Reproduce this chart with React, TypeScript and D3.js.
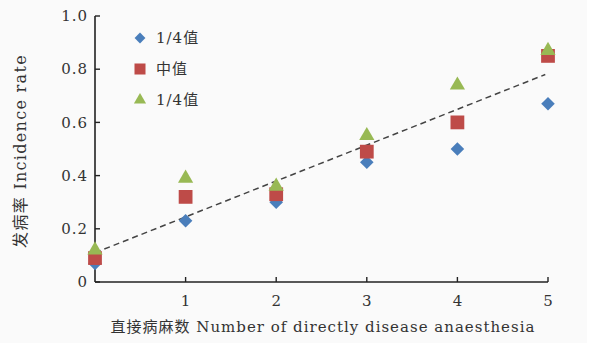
import React from 'react';
import * as d3 from 'd3';

// x categories and the three series
const xValues = [0, 1, 2, 3, 4, 5];
const lowQuartile = [0.07, 0.23, 0.30, 0.45, 0.50, 0.67];
const median = [0.09, 0.32, 0.33, 0.49, 0.60, 0.85];
const highQuartile = [0.12, 0.39, 0.36, 0.55, 0.74, 0.87];
// dashed trend line end points
const trendX = [0, 4.97];
const trendY = [0.11, 0.78];

const yTicks = [0, 0.2, 0.4, 0.6, 0.8, 1.0];
const xTicks = [1, 2, 3, 4, 5];
const legendLabels = ['1/4值', '中值', '1/4值'];

const W = 595;
const H = 343;
const margin = { top: 16, right: 47, bottom: 61, left: 95 };

const serif = "'DejaVu Serif', 'Liberation Serif', 'Noto Sans CJK SC', serif";

const App = () => {
  const x = d3.scaleLinear().domain([0, 5]).range([margin.left, W - margin.right]);
  const y = d3.scaleLinear().domain([0, 1]).range([H - margin.bottom, margin.top]);

  // diamond = square turned 45 degrees
  const diamond = d3.symbol().type(d3.symbolSquare).size(92)();
  const square = d3.symbol().type(d3.symbolSquare).size(190)();
  const triangle = d3.symbol().type(d3.symbolTriangle).size(100)();

  const series = [
    { values: lowQuartile, path: diamond, color: '#4a7ebb', rot: 45 },
    { values: median, path: square, color: '#be4b48', rot: 0 },
    { values: highQuartile, path: triangle, color: '#98b954', rot: 0 },
  ];

  const trend = d3.line<number>()
    .x((d, i) => x(trendX[i]))
    .y(d => y(d));

  const x0 = x(0);
  const y0 = y(0);

  return (
    <svg width={W} height={H} style={{ position: 'absolute', left: 0, top: 0 }}>
      <rect width={587} height={H} fill="#fafafa" />
      <rect x={587} width={W - 587} height={H} fill="#ffffff" />

      {/* axes */}
      <line x1={x0} x2={x0} y1={y(1)} y2={y0} stroke="#222" strokeWidth={1.6} />
      <line x1={x0} x2={x(5)} y1={y0} y2={y0} stroke="#222" strokeWidth={1.6} />
      {yTicks.map(t => (
        <g key={t}>
          <line x1={x0} x2={x0 + 5} y1={y(t)} y2={y(t)} stroke="#222" strokeWidth={1.4} />
          <text x={x0 - 7} y={y(t)} dy="0.35em" textAnchor="end" fontFamily={serif}
            fontSize={15} letterSpacing={1} fill="#333">
            {t === 0 ? '0' : t.toFixed(1)}
          </text>
        </g>
      ))}
      {xTicks.map(t => (
        <g key={t}>
          <line x1={x(t)} x2={x(t)} y1={y0} y2={y0 - 5} stroke="#222" strokeWidth={1.4} />
          <text x={x(t)} y={y0 + 19} dy="0.35em" textAnchor="middle" fontFamily={serif}
            fontSize={15} fill="#333">
            {t}
          </text>
        </g>
      ))}

      {/* axis titles */}
      <text x={323} y={332} textAnchor="middle" fontFamily={serif} fontSize={15}
        letterSpacing={1} fill="#333">
        直接病麻数 Number of directly disease anaesthesia
      </text>
      <text transform="translate(26,151) rotate(-90)" textAnchor="middle" fontFamily={serif}
        fontSize={16} letterSpacing={1.3} fill="#333">
        发病率 Incidence rate
      </text>

      {/* trend line */}
      <path d={trend(trendY) || ''} fill="none" stroke="#444" strokeWidth={1.5}
        strokeDasharray="6,4" />

      {/* points */}
      {series.map((s, si) => (
        <g key={si}>
          {s.values.map((v, i) => (
            <path key={i} d={s.path || ''}
              transform={`translate(${x(xValues[i])},${y(v)}) rotate(${s.rot})`}
              fill={s.color} />
          ))}
        </g>
      ))}

      {/* legend */}
      {series.map((s, si) => (
        <g key={si} transform={`translate(140,${38 + si * 31})`}>
          <path d={s.path || ''} transform={`rotate(${s.rot}) scale(0.8)`} fill={s.color} />
          <text x={16} dy="0.35em" fontFamily={serif} fontSize={15} letterSpacing={1}
            fill="#333">
            {legendLabels[si]}
          </text>
        </g>
      ))}
    </svg>
  );
};

export default App;
